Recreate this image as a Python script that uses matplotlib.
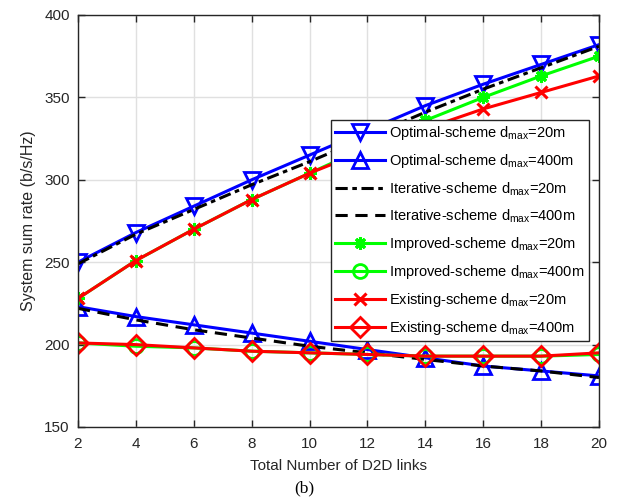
#!/usr/bin/env python3

import matplotlib
matplotlib.use('Agg')
import matplotlib.pyplot as plt

plt.rcParams['font.family'] = ['Liberation Sans', 'DejaVu Sans']
plt.rcParams['mathtext.fontset'] = 'custom'
plt.rcParams['mathtext.rm'] = 'Liberation Sans'
plt.rcParams['mathtext.it'] = 'Liberation Sans'

links = [2, 4, 6, 8, 10, 12, 14, 16, 18, 20]

optimal_20 = [250, 268, 284, 300, 315, 330, 345, 358, 370, 382]
optimal_400 = [223, 217, 212, 207, 202, 197, 192, 187, 184, 181]
iterative_20 = [249, 267, 282, 297, 311, 326, 341, 355, 368, 381]
iterative_400 = [222, 215, 209, 204, 199, 195, 191, 187, 184, 180]
improved_20 = [228, 251, 270, 288, 304, 320, 336, 350, 363, 375]
improved_400 = [201, 199, 198, 196, 195, 194, 193, 193, 193, 194]
existing_20 = [228, 251, 270, 288, 304, 318, 331, 343, 353, 363]
existing_400 = [201, 200, 198, 196, 195, 194, 193, 193, 193, 195]

xticks = [2, 4, 6, 8, 10, 12, 14, 16, 18, 20]
yticks = [150, 200, 250, 300, 350, 400]


def main():
    fig = plt.figure(figsize=(6.21, 5.03), dpi=100)
    ax = fig.add_axes([78 / 621, 1 - 427 / 503, 521 / 621, 412 / 503])

    lw = 2.2
    ax.plot(links, optimal_20, color='b', lw=lw, marker='v', ms=11, mfc='none',
            mew=2, label=r'Optimal-scheme d$_{\rm max}$=20m')
    ax.plot(links, optimal_400, color='b', lw=lw, marker='^', ms=11, mfc='none',
            mew=2, label=r'Optimal-scheme d$_{\rm max}$=400m')
    ax.plot(links, iterative_20, color='k', lw=lw, ls=(0, (4, 1.5, 1.5, 1.5)),
            label=r'Iterative-scheme d$_{\rm max}$=20m')
    ax.plot(links, iterative_400, color='k', lw=lw, ls=(0, (4, 2.5)),
            label=r'Iterative-scheme d$_{\rm max}$=400m')
    ax.plot(links, improved_20, color='#00ff00', lw=lw, marker=(8, 2, 0), ms=9,
            mew=2.2, label=r'Improved-scheme d$_{\rm max}$=20m')
    ax.plot(links, improved_400, color='#00ff00', lw=lw, marker='o', ms=10,
            mfc='none', mew=2, label=r'Improved-scheme d$_{\rm max}$=400m')
    ax.plot(links, existing_20, color='r', lw=lw, marker='x', ms=9, mew=2.2,
            label=r'Existing-scheme d$_{\rm max}$=20m')
    ax.plot(links, existing_400, color='r', lw=lw, marker='D', ms=10,
            mfc='none', mew=2, label=r'Existing-scheme d$_{\rm max}$=400m')

    ax.set_xlim(2, 20)
    ax.set_ylim(150, 400)
    ax.set_xticks(xticks)
    ax.set_yticks(yticks)
    ax.tick_params(direction='in', length=5, width=1, labelsize=11,
                   top=True, right=True, colors='#262626', labelcolor='#262626')
    ax.tick_params(axis='x', pad=7)
    ax.tick_params(axis='y', pad=6)
    for sp in ax.spines.values():
        sp.set_color('#262626')
        sp.set_linewidth(1)
    ax.grid(True, color='#e0e0e0', lw=1)
    ax.set_axisbelow(True)

    ax.set_xlabel('Total Number of D2D links', fontsize=11, color='#262626',
                  labelpad=6)
    ax.set_ylabel('System sum rate (b/s/Hz)', fontsize=11.5, color='#262626',
                  labelpad=6)

    leg = ax.legend(loc='upper left', bbox_to_anchor=(0.485, 0.745),
                    borderaxespad=0, fontsize=10.5, handlelength=3.4,
                    labelspacing=0.68, handletextpad=0.3, fancybox=False,
                    framealpha=1, edgecolor='#262626', borderpad=0.3)
    leg.get_frame().set_linewidth(1)

    fig.text(304 / 621, 1 - 488 / 503, '(b)', ha='center', va='center',
             fontsize=12.5, family=['Liberation Serif', 'DejaVu Serif'])

    fig.savefig('out.png', dpi=100)
    plt.close(fig)


if __name__ == '__main__':
    main()
